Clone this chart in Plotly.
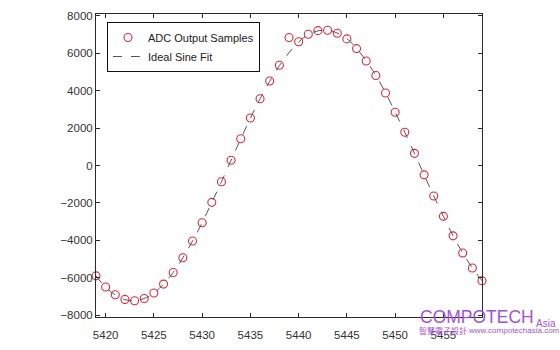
import plotly.graph_objects as go

# Sample index (x) and ADC codes (y)
sample_index = list(range(5419, 5460))
adc_samples = [
    -5900, -6500, -6910, -7160, -7230, -7110, -6820, -6340, -5720, -4930,
    -4040, -3060, -1970, -870, 280, 1430, 2540, 3570, 4520, 5360,
    6840, 6620, 7020, 7210, 7230, 7070, 6770, 6250, 5590, 4810,
    3880, 2850, 1780, 650, -500, -1630, -2720, -3760, -4680, -5480,
    -6160,
]
sine_fit = [
    -5900, -6510, -6920, -7170, -7230, -7110, -6820, -6340, -5720, -4930,
    -4040, -3060, -1970, -870, 280, 1420, 2530, 3560, 4500, 5340,
    6030, 6600, 7000, 7200, 7240, 7080, 6780, 6260, 5600, 4820,
    3890, 2860, 1780, 650, -500, -1630, -2720, -3760, -4680, -5480,
    -6160,
]
x_ticks = [5420, 5425, 5430, 5435, 5440, 5445, 5450, 5455]
y_ticks = [-8000, -6000, -4000, -2000, 0, 2000, 4000, 6000, 8000]

W, H = 560, 350
ML, MR, MT, MB = 96, 78, 14, 33
PW, PH = W - ML - MR, H - MT - MB


def px_x(px):
    return (px - ML) / PW


def px_y(py):
    return (H - MB - py) / PH


fig = go.Figure()
fig.add_trace(go.Scatter(
    x=sample_index, y=adc_samples, mode="markers", name="ADC Output Samples",
    cliponaxis=False,
    marker=dict(symbol="circle-open", size=8, color="#dc2a3c",
                line=dict(width=1.1, color="#dc2a3c")),
))
fig.add_trace(go.Scatter(
    x=sample_index, y=sine_fit, mode="lines", name="Ideal Sine Fit",
    line=dict(color="#555555", width=1, dash="dash", shape="spline"),
))

axis_common = dict(
    showgrid=False, zeroline=False, showline=True, mirror="ticks",
    linecolor="#2a2a2a", linewidth=1, ticks="inside", ticklen=4,
    tickcolor="#2a2a2a", automargin=False,
    tickfont=dict(family="Liberation Sans, Arial", size=11.5,
                  color="#333333"),
)
fig.update_xaxes(range=[5419, 5459], tickvals=x_ticks,
                 ticklabelstandoff=7, **axis_common)
fig.update_yaxes(range=[-8100, 8100], tickvals=y_ticks, **axis_common)

watermark = "#a552d4"
fig.update_layout(
    width=W, height=H,
    margin=dict(l=ML, r=MR, t=MT, b=MB),
    paper_bgcolor="white", plot_bgcolor="white",
    showlegend=True,
    legend=dict(x=px_x(107), y=px_y(22), xanchor="left", yanchor="top",
                bgcolor="white", bordercolor="#111111", borderwidth=1,
                font=dict(family="Liberation Sans, Arial", size=11,
                          color="#222222"),
                tracegroupgap=0, itemwidth=30),
    annotations=[
        dict(text="COMPOTECH", xref="paper", yref="paper",
             x=px_x(418), y=px_y(329.5), xanchor="left", yanchor="bottom",
             showarrow=False,
             font=dict(family="Liberation Sans, Arial", size=17.5,
                       color=watermark)),
        dict(text="Asia", xref="paper", yref="paper",
             x=px_x(534), y=px_y(330.5), xanchor="left", yanchor="bottom",
             showarrow=False,
             font=dict(family="Liberation Sans, Arial", size=10,
                       color=watermark)),
        dict(text="智慧電子設計", xref="paper", yref="paper",
             x=px_x(417), y=px_y(338), xanchor="left", yanchor="bottom",
             showarrow=False,
             font=dict(family="Noto Sans CJK TC", size=8, color=watermark)),
        dict(text="www.compotechasia.com", xref="paper", yref="paper",
             x=px_x(466), y=px_y(337), xanchor="left", yanchor="bottom",
             showarrow=False,
             font=dict(family="Liberation Sans, Arial", size=8,
                       color=watermark)),
    ],
)

fig.write_html("out.html")
